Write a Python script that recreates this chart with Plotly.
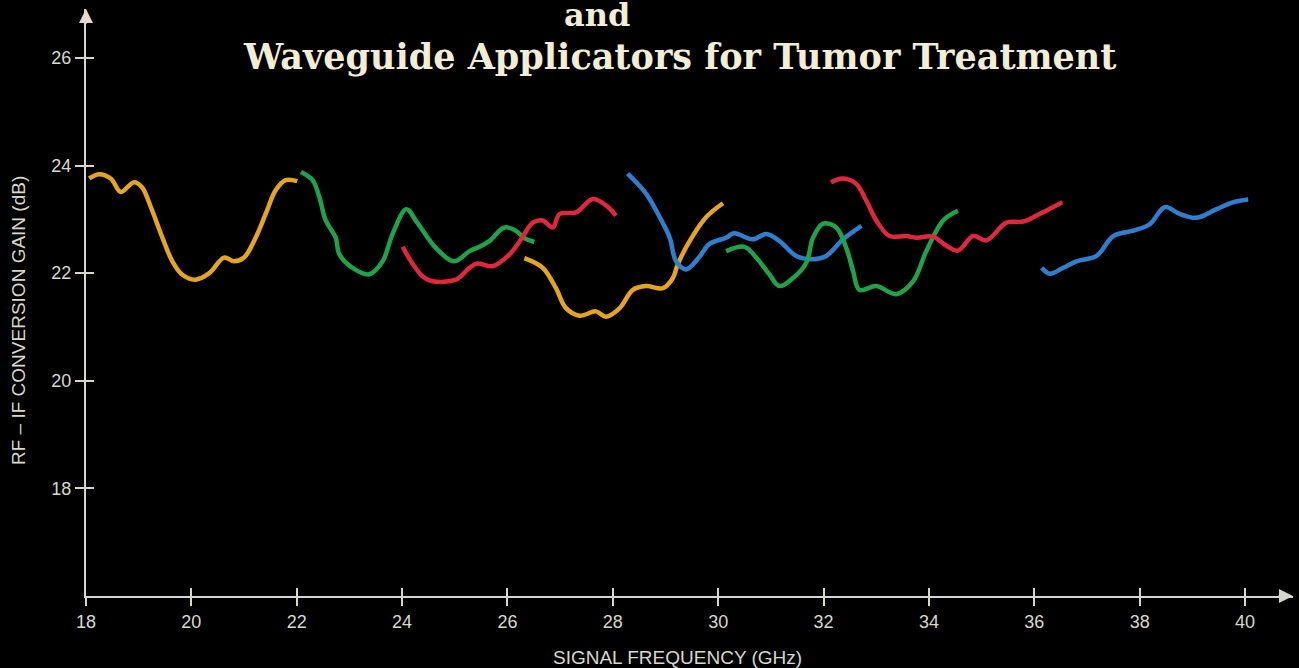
import plotly.graph_objects as go

# ---------------- data ----------------
yellow1_x = [18.06, 18.25, 18.47, 18.66, 18.91, 19.06, 19.23, 19.45, 19.64, 19.83, 20.08, 20.34,
             20.62, 20.81, 21.00, 21.22, 21.41, 21.60, 21.79, 22.01]
yellow1_y = [23.76, 23.84, 23.76, 23.51, 23.69, 23.60, 23.23, 22.66, 22.22, 21.97, 21.88, 22.00,
             22.29, 22.22, 22.29, 22.66, 23.10, 23.54, 23.73, 23.71]

green1_x = [22.08, 22.30, 22.43, 22.55, 22.74, 22.81, 23.06, 23.38, 23.63, 23.82, 24.08, 24.28,
            24.64, 24.99, 25.28, 25.47, 25.66, 25.94, 26.16, 26.32, 26.51]
green1_y = [23.88, 23.73, 23.41, 22.98, 22.66, 22.35, 22.10, 21.98, 22.22, 22.73, 23.19, 22.95,
            22.47, 22.22, 22.41, 22.49, 22.60, 22.85, 22.79, 22.65, 22.58]

red1_x = [24.01, 24.17, 24.39, 24.58, 25.02, 25.28, 25.43, 25.72, 26.04, 26.26, 26.48, 26.67,
          26.86, 26.99, 27.30, 27.62, 27.87, 28.06]
red1_y = [22.49, 22.22, 21.94, 21.85, 21.88, 22.10, 22.18, 22.13, 22.35, 22.63, 22.94, 22.98,
          22.85, 23.10, 23.13, 23.38, 23.26, 23.07]

yellow2_x = [26.32, 26.67, 26.92, 27.11, 27.37, 27.68, 27.87, 28.13, 28.38, 28.63, 28.95, 29.14,
             29.23, 29.46, 29.77, 30.09]
yellow2_y = [22.28, 22.10, 21.72, 21.35, 21.21, 21.29, 21.19, 21.35, 21.69, 21.76, 21.72, 21.91,
             22.16, 22.60, 23.04, 23.30]

blue1_x = [28.28, 28.63, 28.89, 29.08, 29.20, 29.39, 29.64, 29.83, 30.15, 30.30, 30.66, 30.91,
           31.16, 31.48, 31.80, 32.05, 32.37, 32.72]
blue1_y = [23.85, 23.48, 23.04, 22.66, 22.22, 22.07, 22.30, 22.54, 22.66, 22.74, 22.63, 22.73,
           22.60, 22.32, 22.26, 22.32, 22.63, 22.88]

green2_x = [30.15, 30.50, 30.72, 30.97, 31.16, 31.42, 31.67, 31.80, 31.99, 32.24, 32.43, 32.56,
            32.68, 33.00, 33.38, 33.70, 33.95, 34.27, 34.55]
green2_y = [22.41, 22.49, 22.29, 21.98, 21.76, 21.91, 22.19, 22.66, 22.92, 22.85, 22.47, 22.04,
            21.69, 21.76, 21.61, 21.85, 22.41, 22.98, 23.16]

red2_x = [32.14, 32.37, 32.62, 32.81, 33.00, 33.25, 33.57, 33.76, 34.08, 34.33, 34.55, 34.84,
          35.09, 35.47, 35.79, 36.10, 36.53]
red2_y = [23.69, 23.76, 23.66, 23.35, 22.98, 22.69, 22.69, 22.66, 22.68, 22.51, 22.42, 22.69,
          22.61, 22.94, 22.96, 23.10, 23.32]

blue2_x = [36.14, 36.29, 36.55, 36.80, 37.18, 37.50, 37.88, 38.19, 38.48, 38.76, 39.08, 39.46,
           39.78, 40.06]
blue2_y = [22.10, 21.99, 22.10, 22.22, 22.32, 22.69, 22.79, 22.91, 23.23, 23.10, 23.03, 23.19,
           23.32, 23.37]

x_ticks = [18, 20, 22, 24, 26, 28, 30, 32, 34, 36, 38, 40]
y_ticks = [18, 20, 22, 24, 26]

title_line1 = "and"
title_line2 = "Waveguide Applicators for Tumor Treatment"
x_title = "SIGNAL FREQUENCY (GHz)"
y_title = "RF \u2013 IF CONVERSION GAIN (dB)"

# ---------------- styling ----------------
YELLOW = "#e6a51f"
GREEN = "#1ea34a"
RED = "#e0283c"
BLUE = "#2f7fcf"
AXIS = "#d6d6cc"
TEXT = "#d8d8d0"
TITLE = "#f2eed6"

X_RANGE = [18, 40.91]
Y_RANGE = [16, 26.91]

series = [
    (yellow1_x, yellow1_y, YELLOW),
    (green1_x, green1_y, GREEN),
    (red1_x, red1_y, RED),
    (yellow2_x, yellow2_y, YELLOW),
    (blue1_x, blue1_y, BLUE),
    (green2_x, green2_y, GREEN),
    (red2_x, red2_y, RED),
    (blue2_x, blue2_y, BLUE),
]

fig = go.Figure()
for xs, ys, col in series:
    fig.add_trace(go.Scatter(x=xs, y=ys, mode="lines",
                             line=dict(color=col, width=4.5, shape="spline", smoothing=1.0),
                             hoverinfo="skip", showlegend=False))

# dummy trace for overlay axes (inside half of crossing ticks)
fig.add_trace(go.Scatter(x=[], y=[], xaxis="x2", yaxis="y2", showlegend=False))

SANS = "Liberation Sans, Arial, sans-serif"
tick_font = dict(family=SANS, size=18, color=TEXT)

fig.update_layout(
    width=1299, height=668,
    margin=dict(l=86, r=6, t=9, b=72),
    paper_bgcolor="#000000",
    plot_bgcolor="#000000",
    showlegend=False,
    xaxis=dict(range=X_RANGE, tickvals=x_ticks, ticktext=[str(v) for v in x_ticks],
               showgrid=False, zeroline=False, showline=True, linecolor=AXIS, linewidth=2,
               ticks="outside", ticklen=8, tickwidth=2, tickcolor=AXIS,
               tickfont=tick_font, fixedrange=True),
    yaxis=dict(range=Y_RANGE, tickvals=y_ticks, ticktext=[str(v) for v in y_ticks],
               showgrid=False, zeroline=False, showline=True, linecolor=AXIS, linewidth=2,
               ticks="outside", ticklen=9, tickwidth=2, tickcolor=AXIS,
               tickfont=tick_font, fixedrange=True),
    xaxis2=dict(range=X_RANGE, overlaying="x", anchor="y", side="bottom",
                tickvals=x_ticks, ticks="inside", ticklen=8, tickwidth=2, tickcolor=AXIS,
                showticklabels=False, showgrid=False, zeroline=False, showline=False),
    yaxis2=dict(range=Y_RANGE, overlaying="y", anchor="x", side="left",
                tickvals=y_ticks, ticks="inside", ticklen=8, tickwidth=2, tickcolor=AXIS,
                showticklabels=False, showgrid=False, zeroline=False, showline=False),
)

annotations = [
    # arrow heads on axes
    dict(x=X_RANGE[1], y=Y_RANGE[0], xref="x", yref="y", ax=-16, ay=0, axref="pixel", ayref="pixel",
         text="", showarrow=True, arrowhead=2, arrowsize=1.4, arrowwidth=2, arrowcolor=AXIS),
    dict(x=X_RANGE[0], y=Y_RANGE[1], xref="x", yref="y", ax=0, ay=16, axref="pixel", ayref="pixel",
         text="", showarrow=True, arrowhead=2, arrowsize=1.4, arrowwidth=2, arrowcolor="#e8d6d0"),
    # axis titles
    dict(x=(677 - 86) / 1207, y=(596 - 657) / 587, xref="paper", yref="paper",
         text=x_title, showarrow=False, xanchor="center", yanchor="middle",
         font=dict(family=SANS, size=19, color=TEXT)),
    dict(x=(18 - 86) / 1207, y=(596 - 321) / 587, xref="paper", yref="paper",
         text=y_title, showarrow=False, xanchor="center", yanchor="middle", textangle=-90,
         font=dict(family=SANS, size=19, color=TEXT)),
    # title (top line cut by the top edge, as in the source)
    dict(x=(597 - 86) / 1207, y=(596 - 15) / 587, xref="paper", yref="paper",
         text="<b>%s</b>" % title_line1, showarrow=False, xanchor="center", yanchor="middle",
         font=dict(family="DejaVu Serif, serif", size=32, color=TITLE)),
    dict(x=(680 - 86) / 1207, y=(596 - 57) / 587, xref="paper", yref="paper",
         text="<b>%s</b>" % title_line2, showarrow=False, xanchor="center", yanchor="middle",
         font=dict(family="DejaVu Serif, serif", size=35, color=TITLE)),
]
fig.update_layout(annotations=annotations)

fig.write_html("out.html", config={"displayModeBar": False})
